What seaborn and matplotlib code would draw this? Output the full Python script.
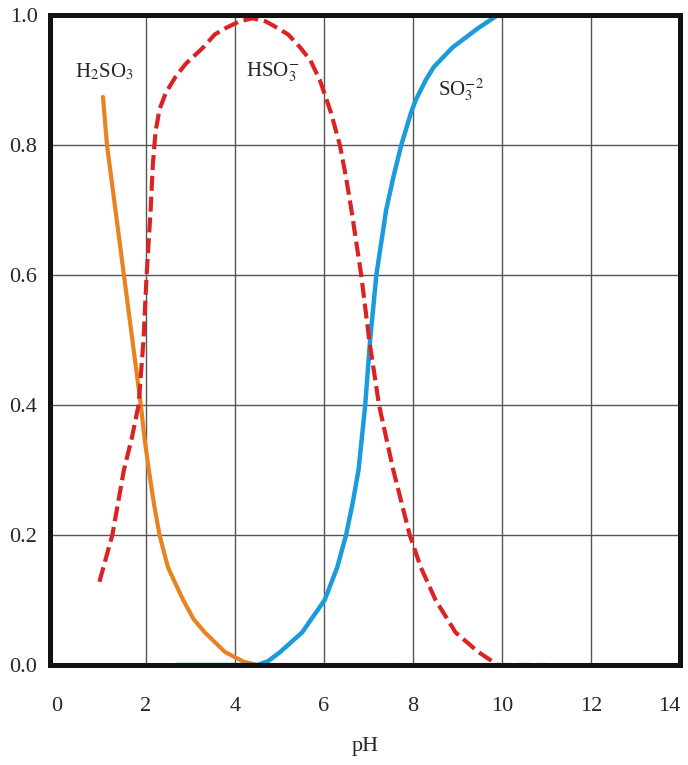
import matplotlib
matplotlib.use("Agg")
import matplotlib.pyplot as plt
import seaborn as sns

# values (pH, fraction)
h2so3_ph = [1.04, 1.13, 1.51, 1.89, 1.97, 2.07, 2.18, 2.31, 2.50, 2.84, 3.08, 3.33,
            3.78, 4.20, 4.51, 7.69]
h2so3_frac = [0.874, 0.80, 0.60, 0.40, 0.35, 0.30, 0.25, 0.20, 0.15, 0.10, 0.07, 0.05,
              0.02, 0.005, 0.0, 0.0]

hso3_ph = [0.96, 1.25, 1.51, 1.69, 1.84, 1.95, 2.02, 2.11, 2.16, 2.22, 2.31, 2.45, 2.67,
           2.90, 3.29, 3.55, 3.80, 4.10, 4.40, 4.70, 4.96, 5.20, 5.47, 5.70, 5.91, 6.16,
           6.36, 6.50, 6.62, 6.84, 7.02, 7.24, 7.56, 7.93, 8.18, 8.51, 8.96, 9.47, 9.91, 11.0]
hso3_frac = [0.128, 0.20, 0.30, 0.35, 0.40, 0.50, 0.60, 0.70, 0.77, 0.82, 0.855, 0.88, 0.905,
             0.925, 0.95, 0.97, 0.98, 0.99, 0.995, 0.99, 0.98, 0.97, 0.95, 0.93, 0.90, 0.85,
             0.80, 0.75, 0.70, 0.60, 0.50, 0.40, 0.30, 0.20, 0.15, 0.10, 0.05, 0.02, 0.0, 0.0]

so3_ph = [2.67, 4.51, 4.75, 5.02, 5.51, 6.02, 6.30, 6.50, 6.65, 6.78, 6.93, 7.04, 7.18,
          7.40, 7.56, 7.74, 7.96, 8.07, 8.29, 8.47, 8.89, 9.47, 9.91, 11.47]
so3_frac = [0.0, 0.0, 0.006, 0.02, 0.05, 0.10, 0.15, 0.20, 0.25, 0.30, 0.40, 0.50, 0.60,
            0.70, 0.75, 0.80, 0.85, 0.87, 0.90, 0.92, 0.95, 0.98, 1.0, 1.0]

x_ticks = [0, 2, 4, 6, 8, 10, 12, 14]
y_ticks = [0.0, 0.2, 0.4, 0.6, 0.8, 1.0]

sns.set_style("white")
plt.rcParams["font.family"] = ["Liberation Serif", "DejaVu Serif"]
plt.rcParams["mathtext.fontset"] = "stix"

fig = plt.figure(figsize=(6.88, 7.65), dpi=100)
ax = fig.add_axes([50 / 688, 1 - 665 / 765, 630 / 688, 650 / 765])

sns.lineplot(x=h2so3_ph, y=h2so3_frac, ax=ax, color="#E8831F", lw=3, sort=False,
             solid_joinstyle="round")
sns.lineplot(x=so3_ph, y=so3_frac, ax=ax, color="#1A9BDC", lw=3.2, sort=False,
             solid_joinstyle="round")
sns.lineplot(x=hso3_ph, y=hso3_frac, ax=ax, color="#D92423", lw=3,
             linestyle=(0, (3.6, 1.4)), sort=False, dash_joinstyle="round")

ax.set_xlim(-0.15, 13.85)
ax.set_ylim(0, 1)
ax.set_xticks(x_ticks)
ax.set_yticks(y_ticks)
ax.set_yticklabels(["%.1f" % v for v in y_ticks])
ax.tick_params(axis="both", length=0, labelsize=16)
ax.tick_params(axis="x", pad=23)
ax.tick_params(axis="y", pad=9)
ax.grid(True, color="#555555", lw=1.0)
ax.set_axisbelow(True)
# no grid line at pH 0, it sits right next to the frame
ax.get_xgridlines()[0].set_visible(False)
ax.get_xticklabels()[-1].set_ha("right")
for s in ax.spines.values():
    s.set_linewidth(3.6)
    s.set_color("#111111")

ax.set_xlabel("pH", fontsize=16, labelpad=15)

ax.text(1.07, 0.912, "H$_2$SO$_3$", fontsize=15, ha="center", va="center")
ax.text(4.84, 0.912, "HSO$_3^{-}$", fontsize=15, ha="center", va="center")
ax.text(9.07, 0.885, "SO$_3^{-2}$", fontsize=15, ha="center", va="center")

fig.savefig("out.png", dpi=100)
